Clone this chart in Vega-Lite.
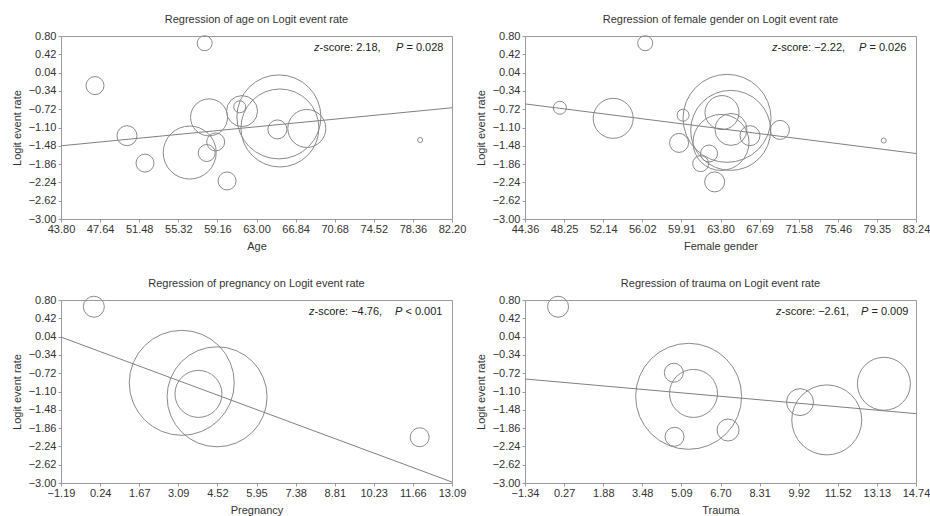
{
  "$schema": "https://vega.github.io/schema/vega-lite/v6.json",
  "padding": {"left": 10, "top": 13, "right": 5, "bottom": 5},
  "background": "white",
  "config": {
    "font": "Liberation Sans",
    "view": {"stroke": "#9a9a9a", "strokeWidth": 1},
    "axis": {"labelFontSize": 11, "titleFontSize": 11, "labelColor": "#333", "titleColor": "#333", "titleFontWeight": "normal", "grid": false, "domainColor": "#9a9a9a", "tickColor": "#9a9a9a", "tickSize": 3, "labelPadding": 2, "labelOverlap": false, "labelFlush": false, "labelBound": false, "tickCount": 20},
    "axisX": {"labelPadding": 1, "titlePadding": 6},
    "axisY": {"titlePadding": 6},
    "title": {"fontSize": 11, "fontWeight": "normal", "color": "#333", "offset": 5}
  },
  "datasets": {
    "age": [
      {"x": 57.91, "y": 0.65, "w": 2.25},
      {"x": 47.14, "y": -0.23, "w": 3.24},
      {"x": 50.28, "y": -1.27, "w": 4.0},
      {"x": 52.05, "y": -1.84, "w": 3.24},
      {"x": 56.44, "y": -1.62, "w": 28.09},
      {"x": 58.11, "y": -1.63, "w": 2.89},
      {"x": 58.99, "y": -1.4, "w": 3.24},
      {"x": 58.34, "y": -0.89, "w": 13.69},
      {"x": 60.11, "y": -2.21, "w": 3.24},
      {"x": 79.07, "y": -1.36, "w": 0.25},
      {"x": 61.58, "y": -0.76, "w": 9.61},
      {"x": 61.35, "y": -0.67, "w": 1.44},
      {"x": 65.2, "y": -0.88, "w": 70.56},
      {"x": 65.3, "y": -1.11, "w": 60.84},
      {"x": 65.05, "y": -1.14, "w": 3.61},
      {"x": 67.94, "y": -1.12, "w": 14.44}
    ],
    "ageLine": [{"x": 43.8, "y": -1.48}, {"x": 82.2, "y": -0.69}],
    "female": [
      {"x": 56.31, "y": 0.65, "w": 2.25},
      {"x": 47.83, "y": -0.69, "w": 1.69},
      {"x": 53.13, "y": -0.91, "w": 16.0},
      {"x": 60.08, "y": -0.845, "w": 1.44},
      {"x": 59.68, "y": -1.42, "w": 3.61},
      {"x": 61.83, "y": -1.85, "w": 2.56},
      {"x": 62.66, "y": -1.64, "w": 2.89},
      {"x": 63.22, "y": -2.23, "w": 4.0},
      {"x": 69.71, "y": -1.15, "w": 3.61},
      {"x": 80.03, "y": -1.37, "w": 0.25},
      {"x": 66.73, "y": -1.27, "w": 4.0},
      {"x": 64.45, "y": -0.91, "w": 77.44},
      {"x": 64.81, "y": -1.16, "w": 64.0},
      {"x": 63.85, "y": -1.41, "w": 31.36},
      {"x": 63.95, "y": -0.79, "w": 11.56},
      {"x": 64.84, "y": -1.14, "w": 10.24}
    ],
    "femaleLine": [{"x": 44.36, "y": -0.61}, {"x": 83.24, "y": -1.64}],
    "preg": [
      {"x": 0.01, "y": 0.66, "w": 4.41},
      {"x": 11.91, "y": -2.05, "w": 3.61},
      {"x": 3.22, "y": -0.92, "w": 110.25},
      {"x": 4.51, "y": -1.21, "w": 100.0},
      {"x": 3.83, "y": -1.15, "w": 22.09}
    ],
    "pregLine": [{"x": -1.19, "y": 0.03}, {"x": 13.09, "y": -2.98}],
    "trauma": [
      {"x": 0.02, "y": 0.66, "w": 4.41},
      {"x": 5.39, "y": -1.2, "w": 112.36},
      {"x": 5.59, "y": -1.14, "w": 23.04},
      {"x": 4.78, "y": -0.71, "w": 3.61},
      {"x": 4.81, "y": -2.04, "w": 3.61},
      {"x": 7.01, "y": -1.9, "w": 4.84},
      {"x": 9.97, "y": -1.32, "w": 7.29},
      {"x": 11.07, "y": -1.69, "w": 49.0},
      {"x": 13.42, "y": -0.94, "w": 28.09}
    ],
    "traumaLine": [{"x": -1.34, "y": -0.84}, {"x": 14.74, "y": -1.56}],
    "one": [{}]
  },
  "columns": 2,
  "bounds": "flush",
  "spacing": {"row": 81, "column": 73},
  "concat": [
    {
      "title": "Regression of age on Logit event rate",
      "width": 391, "height": 183,
      "layer": [
        {
          "data": {"name": "age"},
          "mark": {"type": "point", "shape": "circle", "filled": false, "stroke": "#8a8a8a", "strokeWidth": 1, "opacity": 1},
          "encoding": {
            "x": {"field": "x", "type": "quantitative", "scale": {"domain": [43.8, 82.2], "nice": false, "zero": false}, "axis": {"values": [43.8, 47.64, 51.48, 55.32, 59.16, 63, 66.84, 70.68, 74.52, 78.36, 82.2], "tickCount": 20, "format": ".2f", "title": "Age"}},
            "y": {"field": "y", "type": "quantitative", "scale": {"domain": [-3, 0.8], "nice": false, "zero": false}, "axis": {"values": [0.8, 0.42, 0.04, -0.34, -0.72, -1.1, -1.48, -1.86, -2.24, -2.62, -3], "tickCount": 20, "format": ".2f", "title": "Logit event rate"}},
            "size": {"field": "w", "type": "quantitative", "scale": {"type": "linear", "domain": [0, 200], "range": [0, 20000]}, "legend": null}
          }
        },
        {
          "data": {"name": "ageLine"},
          "mark": {"type": "line", "color": "#808080", "strokeWidth": 1},
          "encoding": {"x": {"field": "x", "type": "quantitative"}, "y": {"field": "y", "type": "quantitative"}}
        },
        {"data": {"name": "one"}, "mark": {"type": "text", "text": "z", "fontStyle": "italic", "align": "left", "baseline": "middle", "fontSize": 11, "color": "#222", "dx": -138, "dy": 12}, "encoding": {"x": {"datum": 82.2, "type": "quantitative"}, "y": {"datum": 0.8, "type": "quantitative"}}},
        {"data": {"name": "one"}, "mark": {"type": "text", "text": "-score: 2.18,", "align": "left", "baseline": "middle", "fontSize": 11, "color": "#222", "dx": -132.5, "dy": 12}, "encoding": {"x": {"datum": 82.2, "type": "quantitative"}, "y": {"datum": 0.8, "type": "quantitative"}}},
        {"data": {"name": "one"}, "mark": {"type": "text", "text": "P", "fontStyle": "italic", "align": "left", "baseline": "middle", "fontSize": 11, "color": "#222", "dx": -56, "dy": 12}, "encoding": {"x": {"datum": 82.2, "type": "quantitative"}, "y": {"datum": 0.8, "type": "quantitative"}}},
        {"data": {"name": "one"}, "mark": {"type": "text", "text": "= 0.028", "align": "left", "baseline": "middle", "fontSize": 11, "color": "#222", "dx": -45.6, "dy": 12}, "encoding": {"x": {"datum": 82.2, "type": "quantitative"}, "y": {"datum": 0.8, "type": "quantitative"}}}
      ]
    },
    {
      "title": "Regression of female gender on Logit event rate",
      "width": 391, "height": 183,
      "layer": [
        {
          "data": {"name": "female"},
          "mark": {"type": "point", "shape": "circle", "filled": false, "stroke": "#8a8a8a", "strokeWidth": 1, "opacity": 1},
          "encoding": {
            "x": {"field": "x", "type": "quantitative", "scale": {"domain": [44.36, 83.24], "nice": false, "zero": false}, "axis": {"values": [44.36, 48.25, 52.14, 56.02, 59.91, 63.8, 67.69, 71.58, 75.46, 79.35, 83.24], "tickCount": 20, "format": ".2f", "title": "Female gender"}},
            "y": {"field": "y", "type": "quantitative", "scale": {"domain": [-3, 0.8], "nice": false, "zero": false}, "axis": {"values": [0.8, 0.42, 0.04, -0.34, -0.72, -1.1, -1.48, -1.86, -2.24, -2.62, -3], "tickCount": 20, "format": ".2f", "title": "Logit event rate"}},
            "size": {"field": "w", "type": "quantitative", "scale": {"type": "linear", "domain": [0, 200], "range": [0, 20000]}, "legend": null}
          }
        },
        {
          "data": {"name": "femaleLine"},
          "mark": {"type": "line", "color": "#808080", "strokeWidth": 1},
          "encoding": {"x": {"field": "x", "type": "quantitative"}, "y": {"field": "y", "type": "quantitative"}}
        },
        {"data": {"name": "one"}, "mark": {"type": "text", "text": "z", "fontStyle": "italic", "align": "left", "baseline": "middle", "fontSize": 11, "color": "#222", "dx": -144, "dy": 12}, "encoding": {"x": {"datum": 83.24, "type": "quantitative"}, "y": {"datum": 0.8, "type": "quantitative"}}},
        {"data": {"name": "one"}, "mark": {"type": "text", "text": "-score: −2.22,", "align": "left", "baseline": "middle", "fontSize": 11, "color": "#222", "dx": -138.5, "dy": 12}, "encoding": {"x": {"datum": 83.24, "type": "quantitative"}, "y": {"datum": 0.8, "type": "quantitative"}}},
        {"data": {"name": "one"}, "mark": {"type": "text", "text": "P", "fontStyle": "italic", "align": "left", "baseline": "middle", "fontSize": 11, "color": "#222", "dx": -57, "dy": 12}, "encoding": {"x": {"datum": 83.24, "type": "quantitative"}, "y": {"datum": 0.8, "type": "quantitative"}}},
        {"data": {"name": "one"}, "mark": {"type": "text", "text": "= 0.026", "align": "left", "baseline": "middle", "fontSize": 11, "color": "#222", "dx": -46.6, "dy": 12}, "encoding": {"x": {"datum": 83.24, "type": "quantitative"}, "y": {"datum": 0.8, "type": "quantitative"}}}
      ]
    },
    {
      "title": "Regression of pregnancy on Logit event rate",
      "width": 391, "height": 183,
      "layer": [
        {
          "data": {"name": "preg"},
          "mark": {"type": "point", "shape": "circle", "filled": false, "stroke": "#8a8a8a", "strokeWidth": 1, "opacity": 1},
          "encoding": {
            "x": {"field": "x", "type": "quantitative", "scale": {"domain": [-1.19, 13.09], "nice": false, "zero": false}, "axis": {"values": [-1.19, 0.24, 1.67, 3.09, 4.52, 5.95, 7.38, 8.81, 10.23, 11.66, 13.09], "tickCount": 20, "format": ".2f", "title": "Pregnancy"}},
            "y": {"field": "y", "type": "quantitative", "scale": {"domain": [-3, 0.8], "nice": false, "zero": false}, "axis": {"values": [0.8, 0.42, 0.04, -0.34, -0.72, -1.1, -1.48, -1.86, -2.24, -2.62, -3], "tickCount": 20, "format": ".2f", "title": "Logit event rate"}},
            "size": {"field": "w", "type": "quantitative", "scale": {"type": "linear", "domain": [0, 200], "range": [0, 20000]}, "legend": null}
          }
        },
        {
          "data": {"name": "pregLine"},
          "mark": {"type": "line", "color": "#808080", "strokeWidth": 1},
          "encoding": {"x": {"field": "x", "type": "quantitative"}, "y": {"field": "y", "type": "quantitative"}}
        },
        {"data": {"name": "one"}, "mark": {"type": "text", "text": "z", "fontStyle": "italic", "align": "left", "baseline": "middle", "fontSize": 11, "color": "#222", "dx": -143, "dy": 12}, "encoding": {"x": {"datum": 13.09, "type": "quantitative"}, "y": {"datum": 0.8, "type": "quantitative"}}},
        {"data": {"name": "one"}, "mark": {"type": "text", "text": "-score: −4.76,", "align": "left", "baseline": "middle", "fontSize": 11, "color": "#222", "dx": -137.5, "dy": 12}, "encoding": {"x": {"datum": 13.09, "type": "quantitative"}, "y": {"datum": 0.8, "type": "quantitative"}}},
        {"data": {"name": "one"}, "mark": {"type": "text", "text": "P", "fontStyle": "italic", "align": "left", "baseline": "middle", "fontSize": 11, "color": "#222", "dx": -57, "dy": 12}, "encoding": {"x": {"datum": 13.09, "type": "quantitative"}, "y": {"datum": 0.8, "type": "quantitative"}}},
        {"data": {"name": "one"}, "mark": {"type": "text", "text": "< 0.001", "align": "left", "baseline": "middle", "fontSize": 11, "color": "#222", "dx": -46.6, "dy": 12}, "encoding": {"x": {"datum": 13.09, "type": "quantitative"}, "y": {"datum": 0.8, "type": "quantitative"}}}
      ]
    },
    {
      "title": "Regression of trauma on Logit event rate",
      "width": 391, "height": 183,
      "layer": [
        {
          "data": {"name": "trauma"},
          "mark": {"type": "point", "shape": "circle", "filled": false, "stroke": "#8a8a8a", "strokeWidth": 1, "opacity": 1},
          "encoding": {
            "x": {"field": "x", "type": "quantitative", "scale": {"domain": [-1.34, 14.74], "nice": false, "zero": false}, "axis": {"values": [-1.34, 0.27, 1.88, 3.48, 5.09, 6.7, 8.31, 9.92, 11.52, 13.13, 14.74], "tickCount": 20, "format": ".2f", "title": "Trauma"}},
            "y": {"field": "y", "type": "quantitative", "scale": {"domain": [-3, 0.8], "nice": false, "zero": false}, "axis": {"values": [0.8, 0.42, 0.04, -0.34, -0.72, -1.1, -1.48, -1.86, -2.24, -2.62, -3], "tickCount": 20, "format": ".2f", "title": "Logit event rate"}},
            "size": {"field": "w", "type": "quantitative", "scale": {"type": "linear", "domain": [0, 200], "range": [0, 20000]}, "legend": null}
          }
        },
        {
          "data": {"name": "traumaLine"},
          "mark": {"type": "line", "color": "#808080", "strokeWidth": 1},
          "encoding": {"x": {"field": "x", "type": "quantitative"}, "y": {"field": "y", "type": "quantitative"}}
        },
        {"data": {"name": "one"}, "mark": {"type": "text", "text": "z", "fontStyle": "italic", "align": "left", "baseline": "middle", "fontSize": 11, "color": "#222", "dx": -140, "dy": 12}, "encoding": {"x": {"datum": 14.74, "type": "quantitative"}, "y": {"datum": 0.8, "type": "quantitative"}}},
        {"data": {"name": "one"}, "mark": {"type": "text", "text": "-score: −2.61,", "align": "left", "baseline": "middle", "fontSize": 11, "color": "#222", "dx": -134.5, "dy": 12}, "encoding": {"x": {"datum": 14.74, "type": "quantitative"}, "y": {"datum": 0.8, "type": "quantitative"}}},
        {"data": {"name": "one"}, "mark": {"type": "text", "text": "P", "fontStyle": "italic", "align": "left", "baseline": "middle", "fontSize": 11, "color": "#222", "dx": -55, "dy": 12}, "encoding": {"x": {"datum": 14.74, "type": "quantitative"}, "y": {"datum": 0.8, "type": "quantitative"}}},
        {"data": {"name": "one"}, "mark": {"type": "text", "text": "= 0.009", "align": "left", "baseline": "middle", "fontSize": 11, "color": "#222", "dx": -44.6, "dy": 12}, "encoding": {"x": {"datum": 14.74, "type": "quantitative"}, "y": {"datum": 0.8, "type": "quantitative"}}}
      ]
    }
  ]
}
